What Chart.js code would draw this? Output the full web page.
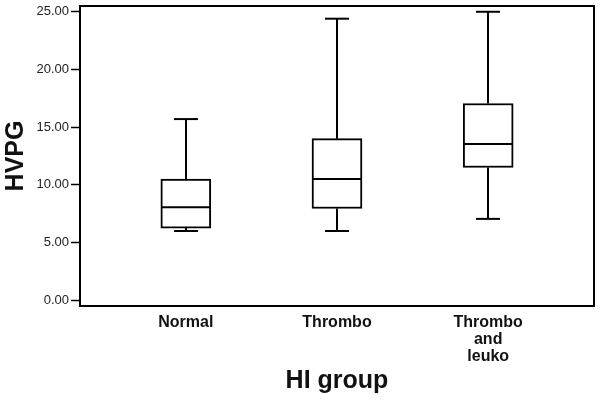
<!DOCTYPE html>
<html>
<head>
<meta charset="utf-8">
<script src="https://cdn.jsdelivr.net/npm/chart.js@4/dist/chart.umd.min.js"></script>
<style>
html,body{margin:0;padding:0;background:#fff;}
#wrap{width:600px;height:402px;}
</style>
</head>
<body>
<div id="wrap"><canvas id="c" width="600" height="402"></canvas></div>
<script>
// ---- data ----
const categories = ['Normal', 'Thrombo', 'Thrombo and leuko'];
const whiskerLow  = [6.0, 6.0, 7.05];
const quartile1   = [6.25, 7.95, 11.5];
const medians     = [8.05, 10.5, 13.55];
const quartile3   = [10.5, 14.0, 17.05];
const whiskerHigh = [15.7, 24.4, 25.0];
const yTicks = [0, 5, 10, 15, 20, 25];

const FONT = "'Liberation Sans', Arial, Helvetica, sans-serif";
const BOX_W = 50, CAP_W = 24;

const boxData = categories.map((c, i) => ({x: i, y: [quartile1[i], quartile3[i]]}));

const whiskerPlugin = {
  id: 'whiskers',
  afterDatasetsDraw(chart) {
    const {ctx, scales: {x, y}, chartArea: a} = chart;
    ctx.save();
    ctx.strokeStyle = '#000';
    ctx.lineWidth = 2;
    ctx.lineCap = 'butt';
    const seg = (x1, y1, x2, y2) => { ctx.beginPath(); ctx.moveTo(x1, y1); ctx.lineTo(x2, y2); ctx.stroke(); };
    categories.forEach((c, i) => {
      const cx = Math.round(x.getPixelForValue(i));
      const yHi = y.getPixelForValue(whiskerHigh[i]);
      const yQ3 = y.getPixelForValue(quartile3[i]);
      const yQ1 = y.getPixelForValue(quartile1[i]);
      const yLo = y.getPixelForValue(whiskerLow[i]);
      const yMed = y.getPixelForValue(medians[i]);
      seg(cx, yQ3, cx, yHi);
      seg(cx - CAP_W / 2, yHi, cx + CAP_W / 2, yHi);
      seg(cx, yQ1, cx, yLo);
      seg(cx - CAP_W / 2, yLo, cx + CAP_W / 2, yLo);
      seg(cx - BOX_W / 2, yMed, cx + BOX_W / 2, yMed);
    });
    ctx.strokeRect(a.left, a.top, a.right - a.left, a.bottom - a.top);
    ctx.restore();
  }
};

new Chart(document.getElementById('c'), {
  type: 'bar',
  data: {
    datasets: [{
      data: boxData,
      backgroundColor: '#ffffff',
      borderColor: '#000000',
      borderWidth: 2,
      borderSkipped: false,
      barThickness: BOX_W
    }]
  },
  options: {
    responsive: false,
    animation: false,
    devicePixelRatio: 1,
    layout: {padding: {top: 6, right: 6, left: 0, bottom: 0}},
    plugins: {legend: {display: false}, tooltip: {enabled: false}},
    scales: {
      x: {
        type: 'linear',
        offset: false,
        min: -0.7,
        max: 2.7,
        afterBuildTicks: (s) => { s.ticks = categories.map((c, i) => ({value: i})); },
        afterFit: (s) => { s.height = 96; s.paddingLeft = 0; s.paddingRight = 0; },
        grid: {display: false, drawTicks: false},
        border: {display: true, color: '#000', width: 2},
        ticks: {
          autoSkip: false,
          maxRotation: 0,
          padding: 8,
          color: '#111',
          font: {family: FONT, size: 16, weight: 'bold', lineHeight: 1.07},
          callback: (v, i) => categories[i] ? categories[i].split(' ').length > 2 ? categories[i].split(' ') : categories[i] : ''
        },
        title: {
          display: true,
          text: 'HI group',
          color: '#111',
          font: {family: FONT, size: 25, weight: 'bold'},
          padding: {top: 0, bottom: 6}
        }
      },
      y: {
        min: -0.5,
        max: 25.5,
        afterBuildTicks: (s) => { s.ticks = yTicks.map(v => ({value: v})); },
        afterFit: (s) => { s.width = 80; s.paddingTop = 0; s.paddingBottom = 0; },
        grid: {drawOnChartArea: false, drawTicks: true, tickLength: 9, tickWidth: 1.5, tickColor: '#000'},
        border: {display: true, color: '#000', width: 2},
        ticks: {
          padding: 2,
          color: '#222',
          font: {family: FONT, size: 13},
          callback: (v) => Number(v).toFixed(2)
        },
        title: {
          display: true,
          text: 'HVPG',
          color: '#111',
          font: {family: FONT, size: 25, weight: 'bold'},
          padding: {top: 1, bottom: 0}
        }
      }
    }
  },
  plugins: [whiskerPlugin]
});
</script>
</body>
</html>
